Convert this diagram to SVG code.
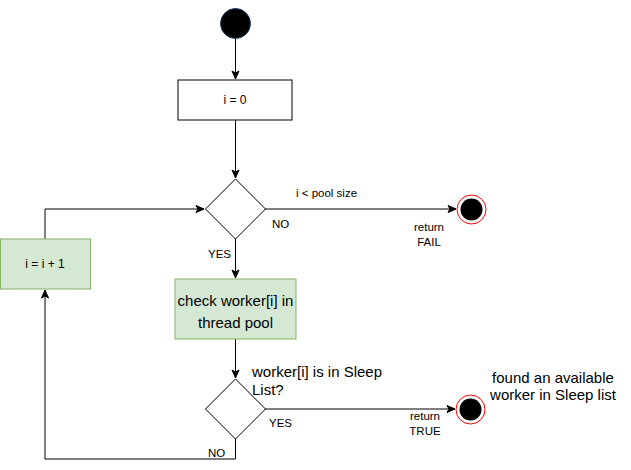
<svg xmlns="http://www.w3.org/2000/svg" width="631" height="470" viewBox="0 0 631 470">
<defs>
<marker id="arr" markerWidth="10" markerHeight="10" refX="9" refY="5" orient="auto" markerUnits="userSpaceOnUse">
<path d="M1,1.5 L9,5 L1,8.5 L3,5 Z" fill="#000" stroke="#000" stroke-width="1"/>
</marker>
</defs>
<style>
.t{font-family:"Liberation Sans",Arial,sans-serif;fill:#000}
.s11{font-size:11.5px}
.s12{font-size:12px}
.s14{font-size:15px}
.ln{fill:none;stroke:#000;stroke-width:1}
.box{fill:#fff;stroke:#000;stroke-width:1}
.gbox{fill:#d5e8d4;stroke:#82b366;stroke-width:1}
.dia{fill:#fff;stroke:#000;stroke-width:1}
</style>
<g id="connectors">
<path class="ln" d="M235.5,39 L235.5,79" marker-end="url(#arr)"/>
<path class="ln" d="M235.5,120 L235.5,178" marker-end="url(#arr)"/>
<path class="ln" d="M265,209 L456,209" marker-end="url(#arr)"/>
<path class="ln" d="M235.5,239 L235.5,278" marker-end="url(#arr)"/>
<path class="ln" d="M45,239 L45,209 L204,209" marker-end="url(#arr)"/>
<path class="ln" d="M235.5,339 L235.5,378" marker-end="url(#arr)"/>
<path class="ln" d="M265,409 L455,409" marker-end="url(#arr)"/>
<path class="ln" d="M235.5,438 L235.5,459 L45,459 L45,290" marker-end="url(#arr)"/>
</g>
<g id="start">
<circle cx="235.5" cy="23.5" r="15" fill="#000" stroke="#1f3a60" stroke-width="1"/>
</g>
<g id="init">
<rect class="box" x="178" y="80" width="114" height="40"/>
<text class="t s12" x="235" y="104" text-anchor="middle">i = 0</text>
</g>
<g id="cond1">
<path class="dia" d="M235.5,179 L265.5,209 L235.5,239 L205.5,209 Z"/>
</g>
<g id="inc">
<rect class="gbox" x="0.5" y="239" width="90" height="50"/>
<text class="t s12" x="45" y="268" text-anchor="middle">i = i + 1</text>
</g>
<g id="check">
<rect class="gbox" x="175" y="279" width="121" height="60"/>
<text class="t s14" x="235.5" y="306" text-anchor="middle">check worker[i] in</text>
<text class="t s14" x="235.5" y="328" text-anchor="middle">thread pool</text>
</g>
<g id="cond2">
<path class="dia" d="M235.5,379 L265.5,409 L235.5,439 L205.5,409 Z"/>
</g>
<g id="endfail">
<circle cx="471.5" cy="209.5" r="14.5" fill="#fff" stroke="#ff0000" stroke-width="1"/>
<circle cx="471.5" cy="209.5" r="11" fill="#000"/>
</g>
<g id="endtrue">
<circle cx="470.5" cy="409.5" r="14.5" fill="#fff" stroke="#ff0000" stroke-width="1"/>
<circle cx="470.5" cy="409.5" r="11" fill="#000"/>
</g>
<g id="labels">
<text class="t s11" x="296" y="197">i &lt; pool size</text>
<text class="t s11" x="272" y="228">NO</text>
<text class="t s11" x="429" y="231" text-anchor="middle">return</text>
<text class="t s11" x="429" y="246" text-anchor="middle">FAIL</text>
<text class="t s11" x="208" y="258">YES</text>
<text class="t s14" x="252" y="377">worker[i] is in Sleep</text>
<text class="t s14" x="252" y="395">List?</text>
<text class="t s11" x="269" y="427">YES</text>
<text class="t s11" x="208" y="457">NO</text>
<text class="t s11" x="425" y="420" text-anchor="middle">return</text>
<text class="t s11" x="425" y="435" text-anchor="middle">TRUE</text>
<text class="t s14" x="553" y="383" text-anchor="middle">found an available</text>
<text class="t s14" x="553" y="400" text-anchor="middle">worker in Sleep list</text>
</g>
</svg>
